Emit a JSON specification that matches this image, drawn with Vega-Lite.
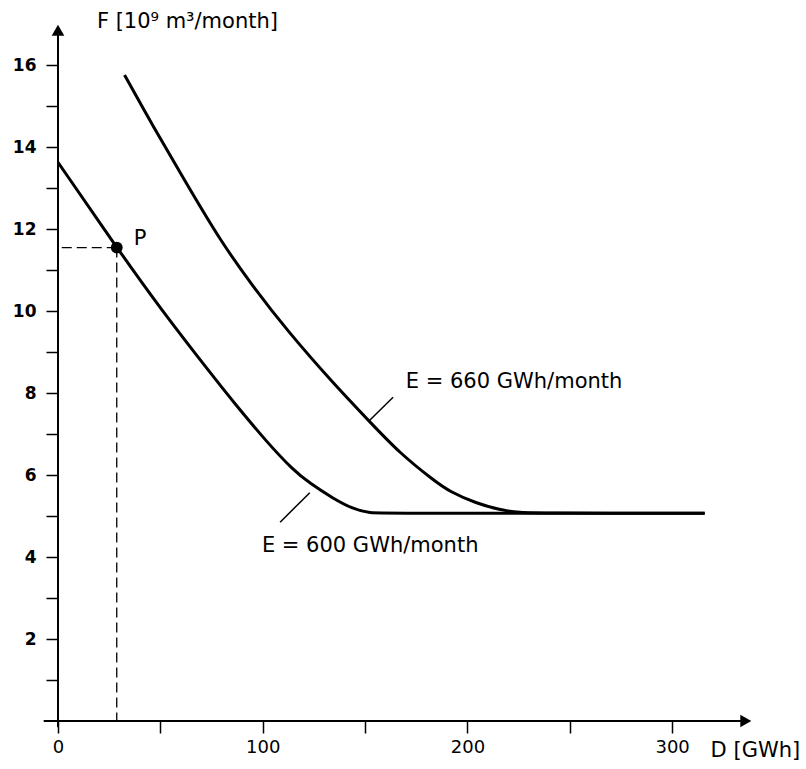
{
  "$schema": "https://vega.github.io/schema/vega-lite/v6.json",
  "width": 696,
  "height": 703,
  "autosize": "none",
  "padding": {"left": 58, "top": 18, "right": 52, "bottom": 48},
  "background": "#FFFFFF",
  "config": {
    "view": {"stroke": null},
    "font": "DejaVu Sans",
    "axis": {
      "labelFont": "DejaVu Sans",
      "labelColor": "#000000",
      "tickColor": "#000000",
      "grid": false,
      "domain": false,
      "title": null,
      "tickSize": 12,
      "tickWidth": 1.5,
      "labelFlush": false
    }
  },
  "datasets": {
    "curves": [
      {"series": "E = 600", "d": 0, "f": 13.63},
      {"series": "E = 600", "d": 28.7, "f": 11.55},
      {"series": "E = 600", "d": 50, "f": 10.06},
      {"series": "E = 600", "d": 77.1, "f": 8.32},
      {"series": "E = 600", "d": 85.6, "f": 7.79},
      {"series": "E = 600", "d": 101.9, "f": 6.81},
      {"series": "E = 600", "d": 114.9, "f": 6.12},
      {"series": "E = 600", "d": 123, "f": 5.8},
      {"series": "E = 600", "d": 134.4, "f": 5.43},
      {"series": "E = 600", "d": 144.2, "f": 5.17},
      {"series": "E = 600", "d": 152, "f": 5.07},
      {"series": "E = 600", "d": 162, "f": 5.07},
      {"series": "E = 600", "d": 300, "f": 5.07},
      {"series": "E = 600", "d": 315.9, "f": 5.07},
      {"series": "E = 660", "d": 32.5, "f": 15.76},
      {"series": "E = 660", "d": 46.5, "f": 14.5},
      {"series": "E = 660", "d": 62.8, "f": 13.11},
      {"series": "E = 660", "d": 79.1, "f": 11.73},
      {"series": "E = 660", "d": 95.4, "f": 10.59},
      {"series": "E = 660", "d": 111.7, "f": 9.54},
      {"series": "E = 660", "d": 134.4, "f": 8.24},
      {"series": "E = 660", "d": 152.3, "f": 7.3},
      {"series": "E = 660", "d": 167, "f": 6.53},
      {"series": "E = 660", "d": 183.3, "f": 5.88},
      {"series": "E = 660", "d": 191.4, "f": 5.59},
      {"series": "E = 660", "d": 204.4, "f": 5.31},
      {"series": "E = 660", "d": 215.8, "f": 5.15},
      {"series": "E = 660", "d": 225.6, "f": 5.08},
      {"series": "E = 660", "d": 236, "f": 5.07},
      {"series": "E = 660", "d": 300, "f": 5.07},
      {"series": "E = 660", "d": 315.9, "f": 5.07}
    ],
    "axes": [
      {"x": -7, "y": 0, "x2": 334, "y2": 0},
      {"x": 0, "y": -0.15, "x2": 0, "y2": 16.8}
    ],
    "point": [{"d": 28.7, "f": 11.55}],
    "leaders": [
      {"x": 151.9, "y": 7.32, "x2": 163.7, "y2": 7.9},
      {"x": 108.5, "y": 4.85, "x2": 123, "y2": 5.57}
    ],
    "labels": [
      {"text": "F [10⁹ m³/month]", "x": 19, "y": 17.05},
      {"text": "P", "x": 37, "y": 11.75},
      {"text": "E = 660 GWh/month", "x": 169.9, "y": 8.28},
      {"text": "E = 600 GWh/month", "x": 99.6, "y": 4.28},
      {"text": "D [GWh]", "x": 318.8, "y": -0.73}
    ]
  },
  "layer": [
    {
      "data": {"name": "curves"},
      "mark": {"type": "line", "color": "#000000", "strokeWidth": 3, "interpolate": "basis"},
      "encoding": {
        "x": {
          "field": "d",
          "type": "quantitative",
          "scale": {"domain": [0, 340], "nice": false, "zero": false},
          "axis": {
            "orient": "bottom",
            "values": [0, 50, 100, 150, 200, 250, 300],
            "labelExpr": "datum.value % 100 == 0 ? datum.label : ''",
            "labelFontSize": 18,
            "labelPadding": 5
          }
        },
        "y": {
          "field": "f",
          "type": "quantitative",
          "scale": {"domain": [0, 17.15], "nice": false, "zero": false},
          "axis": {
            "orient": "left",
            "values": [1, 2, 3, 4, 5, 6, 7, 8, 9, 10, 11, 12, 13, 14, 15, 16],
            "labelExpr": "datum.value % 2 == 0 ? datum.label : ''",
            "labelFontSize": 17,
            "labelFontWeight": "bold",
            "labelPadding": 10
          }
        },
        "detail": {"field": "series", "type": "nominal"}
      }
    },
    {
      "data": {"name": "axes"},
      "mark": {"type": "rule", "color": "#000000", "strokeWidth": 2},
      "encoding": {
        "x": {"field": "x", "type": "quantitative"},
        "y": {"field": "y", "type": "quantitative"},
        "x2": {"field": "x2"},
        "y2": {"field": "y2"}
      }
    },
    {
      "data": {"values": [{"x": 336, "y": 0}]},
      "mark": {"type": "point", "shape": "triangle-right", "filled": true, "color": "#000000", "size": 160, "opacity": 1},
      "encoding": {
        "x": {"field": "x", "type": "quantitative"},
        "y": {"field": "y", "type": "quantitative"}
      }
    },
    {
      "data": {"values": [{"x": 0, "y": 16.85}]},
      "mark": {"type": "point", "shape": "triangle-up", "filled": true, "color": "#000000", "size": 160, "opacity": 1},
      "encoding": {
        "x": {"field": "x", "type": "quantitative"},
        "y": {"field": "y", "type": "quantitative"}
      }
    },
    {
      "data": {"name": "point"},
      "mark": {"type": "rule", "color": "#000000", "strokeWidth": 1.3, "strokeDash": [10, 5]},
      "encoding": {
        "x": {"field": "d", "type": "quantitative"},
        "x2": {"datum": 0},
        "y": {"field": "f", "type": "quantitative"}
      }
    },
    {
      "data": {"name": "point"},
      "mark": {"type": "rule", "color": "#000000", "strokeWidth": 1.3, "strokeDash": [10, 5]},
      "encoding": {
        "x": {"field": "d", "type": "quantitative"},
        "y": {"field": "f", "type": "quantitative"},
        "y2": {"datum": 0}
      }
    },
    {
      "data": {"name": "point"},
      "mark": {"type": "point", "shape": "circle", "filled": true, "color": "#000000", "size": 140, "opacity": 1},
      "encoding": {
        "x": {"field": "d", "type": "quantitative"},
        "y": {"field": "f", "type": "quantitative"}
      }
    },
    {
      "data": {"name": "leaders"},
      "mark": {"type": "rule", "color": "#000000", "strokeWidth": 1.5},
      "encoding": {
        "x": {"field": "x", "type": "quantitative"},
        "y": {"field": "y", "type": "quantitative"},
        "x2": {"field": "x2"},
        "y2": {"field": "y2"}
      }
    },
    {
      "data": {"name": "labels"},
      "mark": {"type": "text", "align": "left", "baseline": "middle", "fontSize": 21, "color": "#000000", "font": "DejaVu Sans"},
      "encoding": {
        "x": {"field": "x", "type": "quantitative"},
        "y": {"field": "y", "type": "quantitative"},
        "text": {"field": "text", "type": "nominal"}
      }
    }
  ]
}
